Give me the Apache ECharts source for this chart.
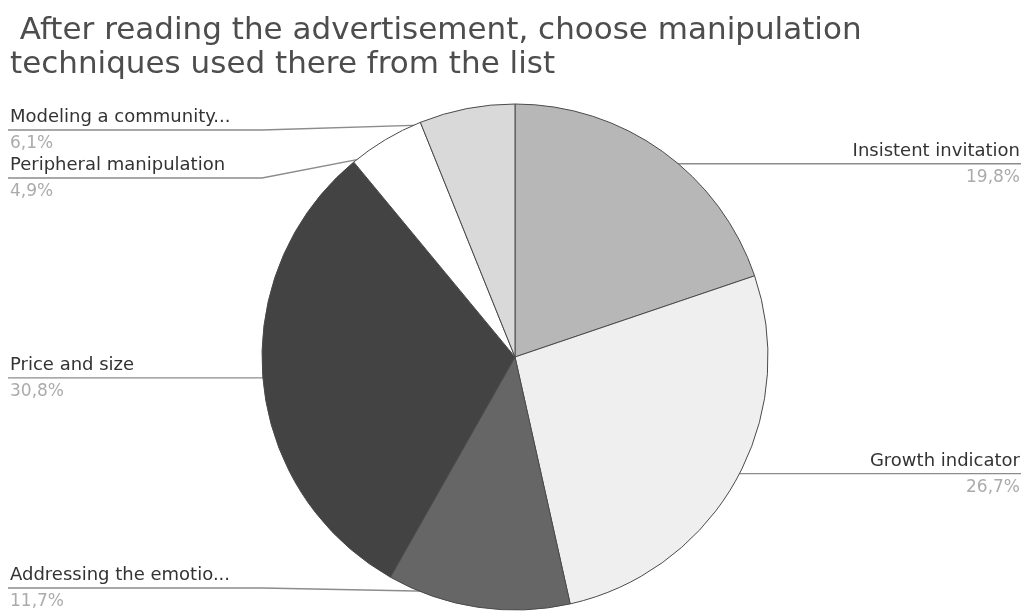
<!DOCTYPE html>
<html><head><meta charset="utf-8">
<script src="https://cdn.jsdelivr.net/npm/echarts@6/dist/echarts.min.js"></script>
<style>html,body{margin:0;padding:0;background:#fff}#c{width:1022px;height:611px}</style>
</head><body><div id="c"></div>
<script>
const titleText = ' After reading the advertisement, choose manipulation\ntechniques used there from the list';
const categories = ['Insistent invitation', 'Growth indicator', 'Addressing the emotio...', 'Price and size', 'Peripheral manipulation', 'Modeling a community...'];
const values = [19.8, 26.7, 11.7, 30.8, 4.9, 6.1];
const colors = ['#b7b7b7', '#efefef', '#666666', '#434343', '#ffffff', '#d9d9d9'];

const W = 1022, H = 611;
const CX = 515, CY = 357, R = 253;
const FONT = "'DejaVu Sans', Verdana, sans-serif";
const total = values.reduce((a, b) => a + b, 0);

// label anchor geometry derived from the pie's own angles
const geo = []; let acc = 0;
values.forEach((v, i) => {
  const mid = (acc + v / 2) / total; acc += v;
  const th = 2 * Math.PI * mid;
  const dx = Math.sin(th), dy = -Math.cos(th);
  geo.push({ i, left: dx < 0, px: CX + 0.94 * R * dx, py: CY + 0.94 * R * dy });
});
[true, false].forEach(side => {
  const items = geo.filter(g => g.left === side).sort((a, b) => a.py - b.py);
  items.forEach(g => g.ly = g.py);
  const gap = 48, top = 130, bottom = H - 23;
  for (let k = 0; k < items.length; k++) { const lo = k ? items[k - 1].ly + gap : top; items[k].ly = Math.max(items[k].ly, lo); }
  for (let k = items.length - 1; k >= 0; k--) { const hi = k < items.length - 1 ? items[k + 1].ly - gap : bottom; items[k].ly = Math.min(items[k].ly, hi); }
});

const fmt = v => v.toFixed(1).replace('.', ',') + '%';

const chart = echarts.init(document.getElementById('c'), null, { renderer: 'canvas' });
chart.setOption({
  animation: false,
  title: {
    text: titleText, left: 5, top: 9,
    textStyle: { fontFamily: FONT, fontSize: 31, fontWeight: 'normal', color: '#4d4d4d', lineHeight: 34 }
  },
  series: [{
    type: 'pie',
    center: [CX, CY], radius: R,
    startAngle: 90, clockwise: true,
    emphasis: { disabled: true },
    data: categories.map((c, i) => ({ name: c, value: values[i], itemStyle: { color: colors[i] } })),
    itemStyle: { borderColor: '#4a4a4a', borderWidth: 1 },
    label: {
      position: 'outside', alignTo: 'edge', edgeDistance: 10,
      formatter: p => `{n|${p.name}}\n{p|${fmt(p.value)}}`,
      rich: {
        n: { fontFamily: FONT, fontSize: 18, color: '#333', lineHeight: 26 },
        p: { fontFamily: FONT, fontSize: 17, color: '#ababab', lineHeight: 27 }
      }
    },
    labelLine: { show: true, length: 10, length2: 10, lineStyle: { color: '#8c8c8c', width: 1.3 } },
    labelLayout: function (params) {
      const g = geo[params.dataIndex];
      const x = g.left ? 10 : W - 2;
      const endX = g.left ? x - 2 : x + 1;
      const bendX = g.left ? CX - R : CX + R;
      return { x: x, y: g.ly + 1, labelLinePoints: [[g.px, g.py], [bendX, g.ly], [endX, g.ly]] };
    }
  }]
});
</script></body></html>
